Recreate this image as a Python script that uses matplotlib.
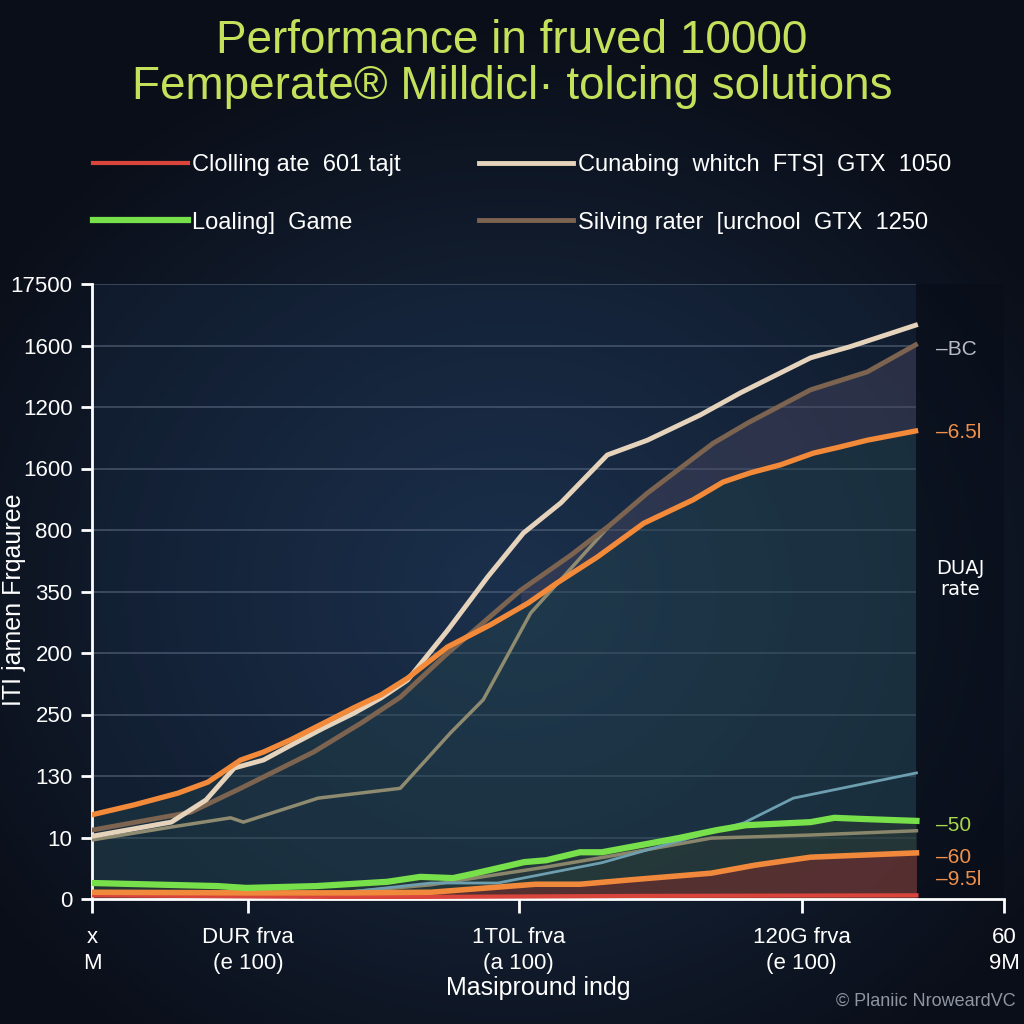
import numpy as np
import matplotlib
matplotlib.use("Agg")
import matplotlib.pyplot as plt

plt.rcParams['font.family'] = ['Liberation Sans', 'DejaVu Sans']

# ---- data (x in arbitrary 0-100 units, y in tick-index units 0-10) ----
title = "Performance in fruved 10000\nFemperate\u00ae Milldicl\u00b7 tolcing solutions"

ytick_labels = ['0', '10', '130', '250', '200', '350', '800', '1600', '1200', '1600', '17500']
xtick_pos = [0, 17.1, 46.8, 77.8, 100]
xtick_labels = ['x\nM', 'DUR frva\n(e 100)', '1T0L frva\n(a 100)', '120G frva\n(e 100)', '60\n9M']

orange_top_x = [0, 4.6, 9.4, 12.7, 16.3, 18.8, 21.8, 25.4, 28.7, 31.7, 34.6, 39.0, 43.7, 47.8,
                51.0, 55.4, 60.5, 65.9, 69.2, 72.2, 75.5, 79.1, 82.0, 85.0, 90.3]
orange_top_y = [1.37, 1.53, 1.72, 1.90, 2.26, 2.39, 2.59, 2.86, 3.11, 3.32, 3.59, 4.10, 4.46, 4.81,
                5.14, 5.56, 6.11, 6.49, 6.78, 6.93, 7.06, 7.25, 7.35, 7.46, 7.61]

cream_x = [0, 8.7, 12.5, 15.6, 18.8, 21.8, 25.4, 28.7, 31.7, 34.6, 39.0, 43.4, 47.3, 51.4,
           56.5, 60.9, 66.7, 71.1, 78.8, 83.1, 90.3]
cream_y = [1.02, 1.25, 1.61, 2.13, 2.26, 2.50, 2.78, 3.02, 3.27, 3.56, 4.37, 5.24, 5.95, 6.44,
           7.22, 7.46, 7.87, 8.23, 8.80, 8.98, 9.33]

brown_x = [0, 10.8, 16.3, 24.3, 29.5, 33.8, 38.8, 47.0, 52.5, 56.8, 60.9, 68.1, 71.9, 78.8, 85.0, 90.3]
brown_y = [1.12, 1.41, 1.80, 2.39, 2.86, 3.28, 3.97, 5.02, 5.59, 6.08, 6.60, 7.41, 7.74, 8.28, 8.57, 9.01]

khaki_x = [0, 8.7, 15.2, 16.6, 24.8, 33.8, 39.3, 42.9, 48.1, 56.8]
khaki_y = [0.96, 1.17, 1.32, 1.25, 1.64, 1.80, 2.70, 3.24, 4.65, 6.08]

blue_x = [0, 8.1, np.nan, 22.9, 37.2, 44.5, 55.9, 71.5, 76.9, 90.4]
blue_y = [1.01, 1.25, np.nan, 0.03, 0.26, 0.26, 0.59, 1.24, 1.64, 2.05]

green_x = [0, 13.8, 16.9, 24.6, 32.4, 36.0, 39.6, 42.1, 47.4, 49.8, 53.5, 55.9, 64.3, 68.5,
           71.7, 78.8, 81.4, 84.7, 90.4]
green_y = [0.26, 0.21, 0.18, 0.21, 0.28, 0.36, 0.34, 0.42, 0.60, 0.63, 0.76, 0.76, 0.99, 1.12,
           1.20, 1.25, 1.32, 1.30, 1.27]

khaki_low_x = [0, 17.4, 27.1, 37.1, 49.8, 58.9, 67.9, 78.8, 90.4]
khaki_low_y = [0.10, 0.05, 0.10, 0.23, 0.52, 0.75, 0.99, 1.04, 1.11]

orange_low_x = [0, 16.9, 28.8, 37.2, 48.6, 53.5, 58.9, 67.9, 72.7, 78.8, 90.4]
orange_low_y = [0.11, 0.10, 0.10, 0.11, 0.24, 0.24, 0.31, 0.42, 0.55, 0.68, 0.75]

red_x = [0, 30, 60, 90.4]
red_y = [0.06, 0.03, 0.05, 0.06]

legend_labels = ['Clolling ate  601 tajt', 'Loaling]  Game',
                 'Cunabing  whitch  FTS]  GTX  1050', 'Silving rater  [urchool  GTX  1250']

right_labels = ['\u2013BC', '\u20136.5l', '\u201350', '\u201360', '\u20139.5l']
right_y = [8.94, 7.58, 1.19, 0.68, 0.31]
right_colors = ['#b9bcc4', '#f0904a', '#a9d84c', '#f0904a', '#f0904a']

# ---- figure ----
fig = plt.figure(figsize=(10.24, 10.24), dpi=100)
fig.patch.set_facecolor('#0a0f1a')

# radial background glow
bg = fig.add_axes([0, 0, 1, 1], zorder=-10)
yy, xx = np.mgrid[0:1:300j, 0:1:300j]
r = np.sqrt((xx - 0.5) ** 2 + ((yy - 0.58) * 1.1) ** 2)
glow = np.clip(1 - r / 0.62, 0, 1)
c0 = np.array([10, 14, 24]) / 255
c1 = np.array([28, 48, 75]) / 255
img = c0 + (c1 - c0) * glow[..., None]
bg.imshow(img, extent=[0, 1, 0, 1], aspect='auto')
bg.axis('off')

ax = fig.add_axes([92 / 1024, 125 / 1024, 912 / 1024, 615 / 1024])
ax.set_facecolor('none')
ax.set_xlim(0, 100)
ax.set_ylim(0, 10)
x_end = 90.4

ax.axvspan(0, x_end, color='#1a3252', alpha=0.25, lw=0)
ax.axvspan(x_end, 100, color='#070c16', alpha=0.45, lw=0)
ax.hlines(range(1, 11), 0, x_end, color='#5c6c82', lw=1.4, alpha=0.55, zorder=1)

# fills
ax.fill_between(orange_top_x, orange_top_y, 0, color='#24434c', alpha=0.45, lw=0, zorder=1)
bx = np.array(brown_x)
ox_interp = np.interp(bx, orange_top_x, orange_top_y)
mask = bx >= 47
ax.fill_between(bx[mask], np.array(brown_y)[mask], ox_interp[mask], color='#4a4760', alpha=0.45, lw=0, zorder=1)
ax.fill_between(green_x, green_y, 0, color='#2d3d33', alpha=0.5, lw=0, zorder=1)
ax.fill_between(orange_low_x, orange_low_y, 0, color='#5e2f30', alpha=0.85, lw=0, zorder=2)

# lines
ax.plot(khaki_low_x, khaki_low_y, color='#8a866c', lw=2.5, zorder=3)
ax.plot(blue_x, blue_y, color='#6d9fb0', lw=2, zorder=3)
red, = ax.plot(red_x, red_y, color='#d9453b', lw=3, zorder=3)
ax.plot(orange_low_x, orange_low_y, color='#f0893c', lw=4, zorder=4)
green, = ax.plot(green_x, green_y, color='#78e04a', lw=4.5, zorder=5)
ax.plot(khaki_x, khaki_y, color='#8f8b70', lw=2.5, zorder=3)
brown, = ax.plot(brown_x, brown_y, color='#7d6450', lw=3.5, zorder=3)
cream, = ax.plot(cream_x, cream_y, color='#e6d3bc', lw=3.5, zorder=4)
ax.plot(orange_top_x, orange_top_y, color='#f38a3a', lw=3.8, zorder=5)

# right side labels
for lab, yv, col in zip(right_labels, right_y, right_colors):
    ax.text(92.5, yv, lab, color=col, fontsize=15, va='center', ha='left')
ax.text(95.2, 5.2, 'DUAJ\nrate', color='white', fontsize=14, ha='center', va='center',
        family=['DejaVu Sans'], linespacing=1.1)

# axes styling
for s in ['top', 'right']:
    ax.spines[s].set_visible(False)
for s in ['left', 'bottom']:
    ax.spines[s].set_color('white')
    ax.spines[s].set_linewidth(2)
ax.set_yticks(range(11))
ax.set_yticklabels(ytick_labels)
ax.set_xticks(xtick_pos)
ax.set_xticklabels(xtick_labels, linespacing=1.3)
ax.tick_params(axis='y', colors='white', labelsize=16, length=8, width=2, pad=6)
ax.tick_params(axis='x', colors='white', labelsize=16, length=10, width=2, pad=10)

fig.text(0.5, 1 - 64 / 1024, title, color='#c5e05a', fontsize=33, ha='center', va='center',
         linespacing=1.08)
fig.text(14 / 1024, 1 - 600 / 1024, 'ITI jamen Frqauree', color='white', fontsize=18,
         rotation=90, ha='center', va='center')
fig.text(538 / 1024, 1 - 988 / 1024, 'Masipround indg', color='white', fontsize=18,
         ha='center', va='center')
fig.text(1016 / 1024, 1 - 1001 / 1024, '\u00a9 Planiic NroweardVC', color='#8f96a2',
         fontsize=13, ha='right', va='center')

fig.legend([red, green, cream, brown], legend_labels, ncol=2, loc='center',
           bbox_to_anchor=(0.51, 1 - 194 / 1024), frameon=False, fontsize=17,
           labelcolor='white', handlelength=4.0, handletextpad=0.2, columnspacing=3.3,
           labelspacing=1.5)

fig.savefig('out.png', dpi=100, facecolor=fig.get_facecolor())
